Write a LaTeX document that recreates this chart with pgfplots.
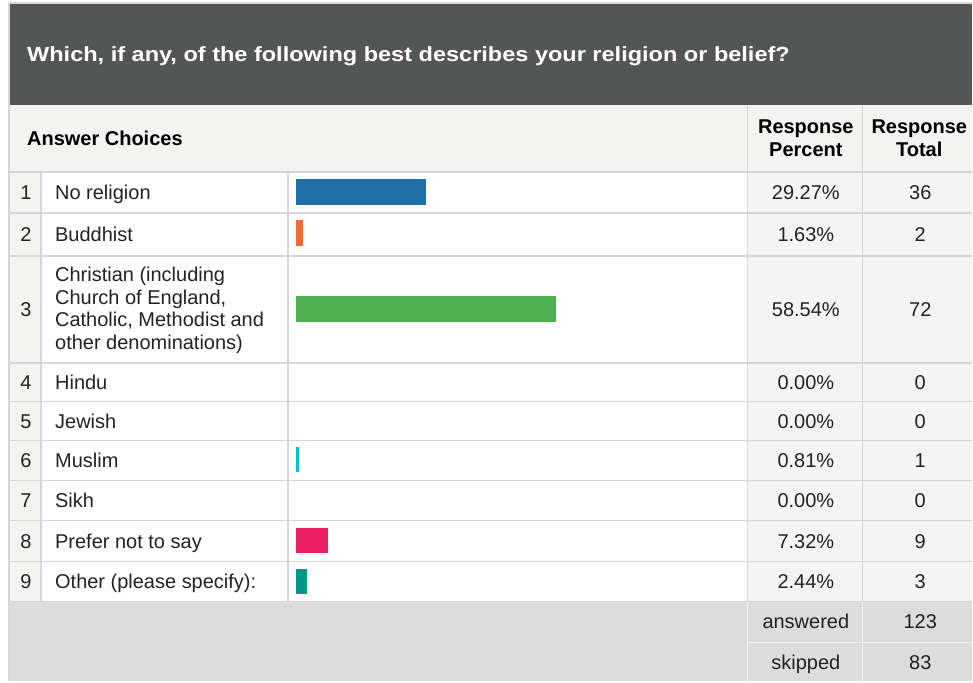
\documentclass[border=0pt]{standalone}
\usepackage{fontspec}
\setmainfont{Liberation Sans}
\usepackage{pgfplots}
\pgfplotsset{compat=1.18}
\definecolor{hdrdark}{HTML}{545655}
\definecolor{hdrlight}{HTML}{F3F3F2}
\definecolor{cellgray}{HTML}{F4F4F4}
\definecolor{sumgray}{HTML}{DCDCDC}
\definecolor{gridc}{HTML}{D6D6D6}
\definecolor{sumline}{HTML}{F2F2F2}
\definecolor{txt}{HTML}{222222}
\definecolor{c1}{HTML}{1F6EA6}
\definecolor{c2}{HTML}{F26B35}
\definecolor{c3}{HTML}{4CAF50}
\definecolor{c6}{HTML}{00BCD4}
\definecolor{c8}{HTML}{E91E63}
\definecolor{c9}{HTML}{009688}
\begin{document}
\begin{tikzpicture}
\begin{scope}[x=1bp,y=-1bp]
  \fill[white] (0,0) rectangle (973,682);
  \fill[hdrdark] (10,3) rectangle (973,105);
  \fill[hdrlight] (10,105) rectangle (973,172);
  \fill[hdrlight] (10,172) rectangle (41,602);
  \fill[cellgray] (748,172) rectangle (973,602);
  \fill[sumgray] (10,602) rectangle (973,682);
  % grid lines
  \begin{scope}[gridc, line width=1.6bp]
    \foreach \yy in {172,213,256,363,402,441,481,521,562,602}
      \draw (10,\yy) -- (973,\yy);
    \draw (41,172) -- (41,602);
    \draw (288,172) -- (288,602);
    \draw (748,105) -- (748,602);
    \draw (863,105) -- (863,602);
    \draw (9,3) -- (9,682);
    \draw (9,3) -- (973,3);
  \end{scope}
  \begin{scope}[sumline, line width=1.6bp]
    \draw (748,602) -- (748,682);
    \draw (863,602) -- (863,682);
    \draw (748,643) -- (973,643);
  \end{scope}
  % title
  \node[anchor=base west, inner sep=0pt, text=white, font=\bfseries\fontsize{20.5bp}{24bp}\selectfont] at (27,61.5) {\scalebox{1.148}[1]{Which, if any, of the following best describes your religion or belief?}};
  % header row
  \begin{scope}[every node/.style={inner sep=0pt, font=\bfseries\fontsize{20bp}{22.5bp}\selectfont, text=black}]
    \node[anchor=base west] at (27,146) {Answer Choices};
    \node[anchor=base] at (806.5,134) {Response};
    \node[anchor=base] at (806.5,156.5) {Percent};
    \node[anchor=base] at (920,134) {Response};
    \node[anchor=base] at (920,156.5) {Total};
  \end{scope}
  % body
  \begin{scope}[every node/.style={inner sep=0pt, font=\fontsize{20bp}{22.5bp}\selectfont, text=txt}]
    \foreach \n/\yc/\lab/\pc/\tot in {1/192.5/No religion/29.27\%/36,
                                      2/234.5/Buddhist/1.63\%/2,
                                      4/382.5/Hindu/0.00\%/0,
                                      5/421.5/Jewish/0.00\%/0,
                                      6/461/Muslim/0.81\%/1,
                                      7/501/Sikh/0.00\%/0,
                                      8/541.5/Prefer not to say/7.32\%/9,
                                      9/582/Other (please specify):/2.44\%/3} {
      \node[anchor=base] at (26,\yc+7) {\n};
      \node[anchor=base west] at (55,\yc+7) {\lab};
      \node[anchor=base] at (806.5,\yc+7) {\pc};
      \node[anchor=base] at (921,\yc+7) {\tot};
    }
    \node[anchor=base] at (26,316.5) {3};
    \node[anchor=base west] at (55,282) {Christian (including};
    \node[anchor=base west] at (55,304.5) {Church of England,};
    \node[anchor=base west] at (55,327) {Catholic, Methodist and};
    \node[anchor=base west] at (55,349.5) {other denominations)};
    \node[anchor=base] at (806.5,316.5) {58.54\%};
    \node[anchor=base] at (921,316.5) {72};
    \node[anchor=base] at (806.5,629.5) {answered};
    \node[anchor=base] at (921,629.5) {123};
    \node[anchor=base] at (806.5,670) {skipped};
    \node[anchor=base] at (921,670) {83};
  \end{scope}
\end{scope}
\begin{axis}[at={(0,0)}, anchor=north west, width=973bp, height=682bp,
  scale only axis, hide axis, clip=false,
  xmin=-66.65, xmax=152.44, ymin=0, ymax=682, y dir=reverse]
  \addplot[xbar, bar width=25.4, fill=c1, draw=none] coordinates {(29.27,192)};
  \addplot[xbar, bar width=25.4, fill=c2, draw=none] coordinates {(1.63,233.3)};
  \addplot[xbar, bar width=25.4, fill=c3, draw=none] coordinates {(58.54,309.4)};
  \addplot[xbar, bar width=25.4, fill=c6, draw=none] coordinates {(0.81,460)};
  \addplot[xbar, bar width=25.4, fill=c8, draw=none] coordinates {(7.32,540.7)};
  \addplot[xbar, bar width=25.4, fill=c9, draw=none] coordinates {(2.44,582)};
\end{axis}
\end{tikzpicture}
\end{document}
